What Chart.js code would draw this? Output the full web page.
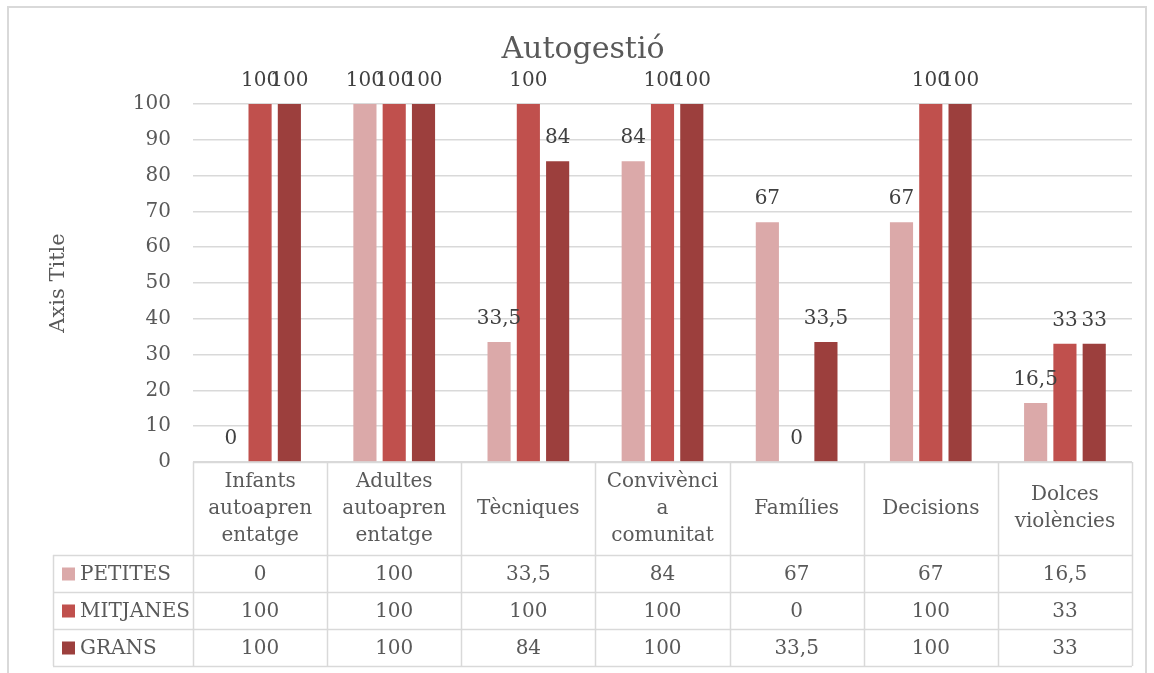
<!DOCTYPE html>
<html>
<head>
<meta charset="utf-8">
<script src="https://cdn.jsdelivr.net/npm/chart.js@4"></script>
<style>
  html, body { margin: 0; padding: 0; background: #fff; }
  #wrap { width: 1154px; height: 673px; }
</style>
</head>
<body>
<div id="wrap"><canvas id="chart" width="1154" height="673"></canvas></div>
<script>
// Données
const chartTitle = 'Autogestió';
const categories = [
    ['Infants', 'autoapren', 'entatge'],
    ['Adultes', 'autoapren', 'entatge'],
    ['Tècniques'],
    ['Convivènci', 'a', 'comunitat'],
    ['Famílies'],
    ['Decisions'],
    ['Dolces', 'violències']
];
const seriesNames = ['PETITES', 'MITJANES', 'GRANS'];
const petites = [0, 100, 33.5, 84, 67, 67, 16.5];
const mitjanes = [100, 100, 100, 100, 0, 100, 33];
const grans = [100, 100, 84, 100, 33.5, 100, 33];
const yTicks = [0, 10, 20, 30, 40, 50, 60, 70, 80, 90, 100];

const colors = ['#DBA9A9', '#C0504D', '#9C3F3D'];
const FONT = "'DejaVu Serif', serif";
const TXT = '#595959';
const LINE = '#d9d9d9';

const fmt = v => String(v).replace('.', ',');

// Cadre, titre, étiquettes et tableau de données
const tablePlugin = {
    id: 'tablePlugin',
    beforeDraw(chart) {
        const ctx = chart.ctx;
        ctx.save();
        ctx.fillStyle = '#fff';
        ctx.fillRect(0, 0, chart.width, chart.height);
        ctx.strokeStyle = LINE;
        ctx.lineWidth = 2;
        ctx.strokeRect(8, 7, 1138, 720);
        // Titre
        ctx.font = '30px ' + FONT;
        ctx.fillStyle = TXT;
        ctx.textAlign = 'center';
        ctx.textBaseline = 'middle';
        ctx.fillText(chartTitle, 583, 50);
        ctx.restore();
    },
    afterDatasetsDraw(chart) {
        const ctx = chart.ctx;
        ctx.save();
        ctx.font = '20px ' + FONT;
        ctx.fillStyle = '#404040';
        ctx.textAlign = 'center';
        ctx.textBaseline = 'middle';
        chart.data.datasets.forEach((ds, i) => {
            chart.getDatasetMeta(i).data.forEach((el, j) => {
                ctx.fillText(fmt(ds.data[j]), el.x, el.y - 23);
            });
        });
        ctx.restore();
    },
    afterDraw(chart) {
        const ctx = chart.ctx;
        const area = chart.chartArea;
        const x = chart.scales.x;
        const n = categories.length;
        const catW = (area.right - area.left) / n;
        const headH = 93, rowH = 37;
        const top = area.bottom;
        const rowsTop = top + headH;
        const bottom = rowsTop + rowH * 3;
        const legLeft = 53;

        ctx.save();
        ctx.strokeStyle = LINE;
        ctx.lineWidth = 1.5;
        ctx.beginPath();
        for (let i = 0; i <= n; i++) {
            const lx = Math.round(area.left + i * catW) + 0.5;
            ctx.moveTo(lx, top);
            ctx.lineTo(lx, bottom);
        }
        ctx.moveTo(legLeft + 0.5, rowsTop);
        ctx.lineTo(legLeft + 0.5, bottom);
        ctx.moveTo(area.left, top + 0.5);
        ctx.lineTo(area.right, top + 0.5);
        for (let r = 0; r <= 3; r++) {
            const ly = rowsTop + r * rowH + 0.5;
            ctx.moveTo(legLeft, ly);
            ctx.lineTo(area.right, ly);
        }
        ctx.stroke();

        ctx.font = '20px ' + FONT;
        ctx.textBaseline = 'middle';
        ctx.textAlign = 'center';
        ctx.fillStyle = TXT;
        // En-têtes
        categories.forEach((lines, i) => {
            const cx = x.getPixelForValue(i);
            const cy = top + headH / 2;
            const lh = 27;
            lines.forEach((t, k) => {
                ctx.fillText(t, cx, cy + (k - (lines.length - 1) / 2) * lh);
            });
        });
        // Lignes de valeurs
        const series = [petites, mitjanes, grans];
        series.forEach((vals, r) => {
            const cy = rowsTop + r * rowH + rowH / 2 + 1;
            ctx.fillStyle = colors[r];
            ctx.fillRect(62, cy - 7, 13, 13);
            ctx.fillStyle = TXT;
            ctx.textAlign = 'left';
            ctx.fillText(seriesNames[r], 80, cy);
            ctx.textAlign = 'center';
            vals.forEach((v, i) => {
                ctx.fillText(fmt(v), x.getPixelForValue(i), cy);
            });
        });
        ctx.restore();
    }
};

new Chart(document.getElementById('chart').getContext('2d'), {
    type: 'bar',
    data: {
        labels: categories,
        datasets: [
            { label: seriesNames[0], data: petites, backgroundColor: colors[0] },
            { label: seriesNames[1], data: mitjanes, backgroundColor: colors[1] },
            { label: seriesNames[2], data: grans, backgroundColor: colors[2] }
        ]
    },
    options: {
        responsive: false,
        animation: false,
        categoryPercentage: 0.655,
        barPercentage: 0.79,
        layout: { padding: { top: 104, left: 8, right: 22, bottom: 0 } },
        plugins: {
            legend: { display: false },
            tooltip: { enabled: false },
            title: { display: false }
        },
        scales: {
            x: {
                grid: { display: false },
                border: { display: false },
                ticks: { display: false },
                afterFit(scale) { scale.height = 211; }
            },
            y: {
                min: 0,
                max: 100,
                afterBuildTicks(scale) { scale.ticks = yTicks.map(v => ({ value: v })); },
                grid: { color: LINE, lineWidth: 1.5, drawTicks: false },
                border: { display: false },
                ticks: { color: TXT, padding: 22, font: { family: FONT, size: 20 } },
                title: {
                    display: true,
                    text: 'Axis Title',
                    color: TXT,
                    font: { family: FONT, size: 21, weight: 'normal' },
                    padding: { top: 38, bottom: 0 }
                },
                afterFit(scale) { scale.width = 185; }
            }
        }
    },
    plugins: [tablePlugin]
});
</script>
</body>
</html>
